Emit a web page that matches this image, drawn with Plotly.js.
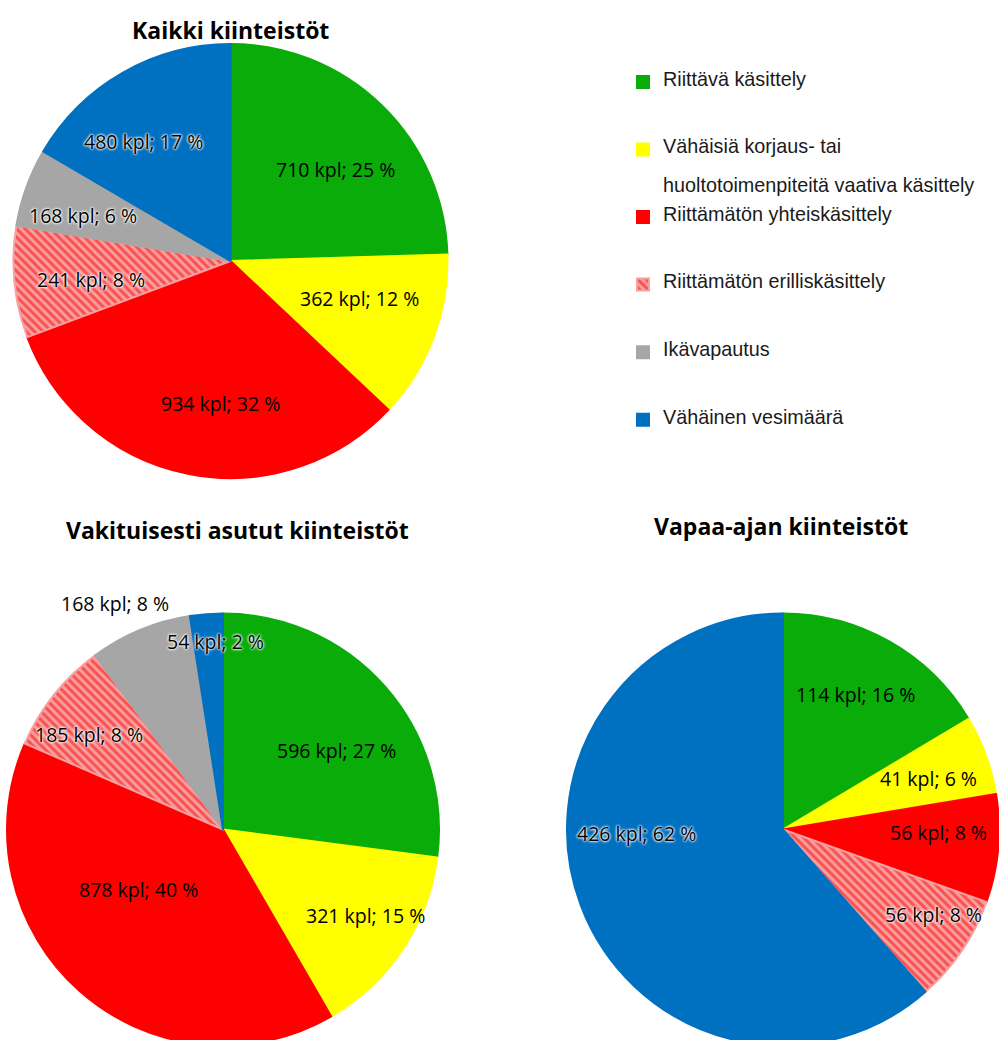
<!DOCTYPE html>
<html><head><meta charset="utf-8">
<script src="https://cdn.plot.ly/plotly-3.0.1.min.js"></script>
<style>html,body{margin:0;padding:0;overflow:hidden;background:#fff}</style>
</head><body><div id="chart"></div>
<script>
// ---- data ----
const categories = [
  "Riittävä käsittely",
  "Vähäisiä korjaus- tai huoltotoimenpiteitä vaativa käsittely",
  "Riittämätön yhteiskäsittely",
  "Riittämätön erilliskäsittely",
  "Ikävapautus",
  "Vähäinen vesimäärä"
];
// legend text lines (the long entry wraps onto two lines)
const legendLines = [
  ["Riittävä käsittely"],
  ["Vähäisiä korjaus- tai", "huoltotoimenpiteitä vaativa käsittely"],
  ["Riittämätön yhteiskäsittely"],
  ["Riittämätön erilliskäsittely"],
  ["Ikävapautus"],
  ["Vähäinen vesimäärä"]
];
const allValues = [710, 362, 934, 241, 168, 480];
const allPct = [25, 12, 32, 8, 6, 17];
const permValues = [596, 321, 878, 185, 168, 54];
const permPct = [27, 15, 40, 8, 8, 2];
const leisureCats = [
  "Riittävä käsittely",
  "Vähäisiä korjaus- tai huoltotoimenpiteitä vaativa käsittely",
  "Riittämätön yhteiskäsittely",
  "Riittämätön erilliskäsittely",
  "Vähäinen vesimäärä"
];
const leisureValues = [114, 41, 56, 56, 426];
const leisurePct = [16, 6, 8, 8, 62];

// ---- styles ----
const colorMap = {
  "Riittävä käsittely": "#0aac0a",
  "Vähäisiä korjaus- tai huoltotoimenpiteitä vaativa käsittely": "#ffff00",
  "Riittämätön yhteiskäsittely": "#ff0000",
  "Riittämätön erilliskäsittely": "#f7a0a0",
  "Ikävapautus": "#a6a6a6",
  "Vähäinen vesimäärä": "#0070c0"
};
const hatched = "Riittämätön erilliskäsittely";
const glowCats = new Set(["Riittämätön erilliskäsittely", "Ikävapautus", "Vähäinen vesimäärä"]);
const W = 999, H = 1046;
function dom(x0, x1, y0, y1) { return {x: [x0 / W, x1 / W], y: [Math.max(0, 1 - y1 / H), 1 - y0 / H]}; }

// legend: small base line height, visible text in a larger span, blank lines for spacing
const LEG_TEXT_PX = 19.8;
function legendLabel(lines) {
  const rows = [];
  rows.push(lines[0]);
  if (lines.length > 1) { rows.push(null, null, lines[1]); }
  while (rows.length < 5) rows.push(null);
  return rows.map(r => r === null ? "&nbsp;" : "<span style='font-size:" + LEG_TEXT_PX + "px'>" + r + "</span>").join("<br>");
}
const legendLabels = legendLines.map(legendLabel);

// label placement: radial fraction of radius and angular nudge (deg) relative to slice middle
const pies = [
  {cats: categories, values: allValues, pct: allPct, domain: dom(13, 448, 44, 478),
   title: "Kaikki kiinteistöt", tx: 230, ty: 30,
   labelR: [0.64, 0.62, 0.66, 0.65, 0.71, 0.68], labelA: [4.8, -4.8, -7.2, -2, -2.6, -6.3], legend: true},
  {cats: categories, values: permValues, pct: permPct, domain: dom(7, 439, 613, 1046),
   title: "Vakituisesti asutut kiinteistöt", tx: 237, ty: 530,
   labelR: [0.64, 0.77, 0.48, 0.76, 1.16, 0.87], labelA: [6.2, -2.5, 12.9, -3.2, -3, 2], legend: false},
  {cats: leisureCats, values: leisureValues, pct: leisurePct, domain: dom(567, 999, 613, 1046),
   title: "Vapaa-ajan kiinteistöt", tx: 781, ty: 526,
   labelR: [0.71, 0.715, 0.72, 0.80, 0.68], labelA: [-1.6, 1, -3.8, -4.8, 19], legend: false}
];

const labelFont = "'Open Sans', Lato, sans-serif";
const traces = [];
const annotations = [];
pies.forEach(p => {
  const cols = p.cats.map(c => colorMap[c]);
  traces.push({
    type: "pie",
    labels: p.cats.map(c => legendLabels[categories.indexOf(c)]),
    values: p.values,
    sort: false,
    direction: "clockwise",
    rotation: 0,
    domain: p.domain,
    textinfo: "none",
    hoverinfo: "value",
    showlegend: p.legend,
    marker: {
      colors: cols,
      line: {width: 2, color: cols},
      pattern: {
        shape: p.cats.map(c => c === hatched ? "\\" : ""),
        fgcolor: p.cats.map(c => c === hatched ? "#ff0000" : colorMap[c]),
        bgcolor: cols,
        fillmode: "overlay",
        size: 6,
        solidity: 0.5
      }
    }
  });
  // label positions derived from the slice angles
  const cx = (p.domain.x[0] + p.domain.x[1]) / 2 * W;
  const cy = (1 - (p.domain.y[0] + p.domain.y[1]) / 2) * H;
  const R = Math.min((p.domain.x[1] - p.domain.x[0]) * W, (p.domain.y[1] - p.domain.y[0]) * H) / 2;
  const tot = p.values.reduce((a, b) => a + b, 0);
  let cum = 0;
  p.values.forEach((v, i) => {
    const mid = (cum + v / 2) / tot * 2 * Math.PI + p.labelA[i] * Math.PI / 180;
    cum += v;
    const r = p.labelR[i] * R;
    const x = cx + r * Math.sin(mid);
    const y = cy - r * Math.cos(mid);
    const glow = glowCats.has(p.cats[i]) && p.labelR[i] < 1;
    annotations.push({
      xref: "paper", yref: "paper", x: x / W, y: 1 - y / H,
      xanchor: "center", yanchor: "middle", showarrow: false,
      text: v + " kpl; " + p.pct[i] + " %",
      font: {family: labelFont, size: 19.5, color: "#000",
             shadow: glow ? "0px 0px 3px #fff, 0px 0px 3px #fff, 0px 0px 2px #fff" : "none"}
    });
  });
  annotations.push({
    xref: "paper", yref: "paper", x: p.tx / W, y: 1 - p.ty / H,
    xanchor: "center", yanchor: "middle", showarrow: false,
    text: p.title,
    font: {family: labelFont, size: 23, color: "#000", weight: "bold"}
  });
});

const layout = {
  width: W, height: H,
  margin: {l: 0, r: 0, t: 0, b: 0},
  paper_bgcolor: "#fff",
  showlegend: true,
  legend: {
    x: 623 / W, y: 1 - 69 / H, xanchor: "left", yanchor: "top",
    valign: "top",
    font: {family: "'Liberation Sans', Arial, sans-serif", size: 9.93, color: "#1a1a1a"},
    bgcolor: "rgba(0,0,0,0)", borderwidth: 0
  },
  annotations: annotations
};
Plotly.newPlot("chart", traces, layout, {displayModeBar: false, staticPlot: true});
</script>
</body></html>
